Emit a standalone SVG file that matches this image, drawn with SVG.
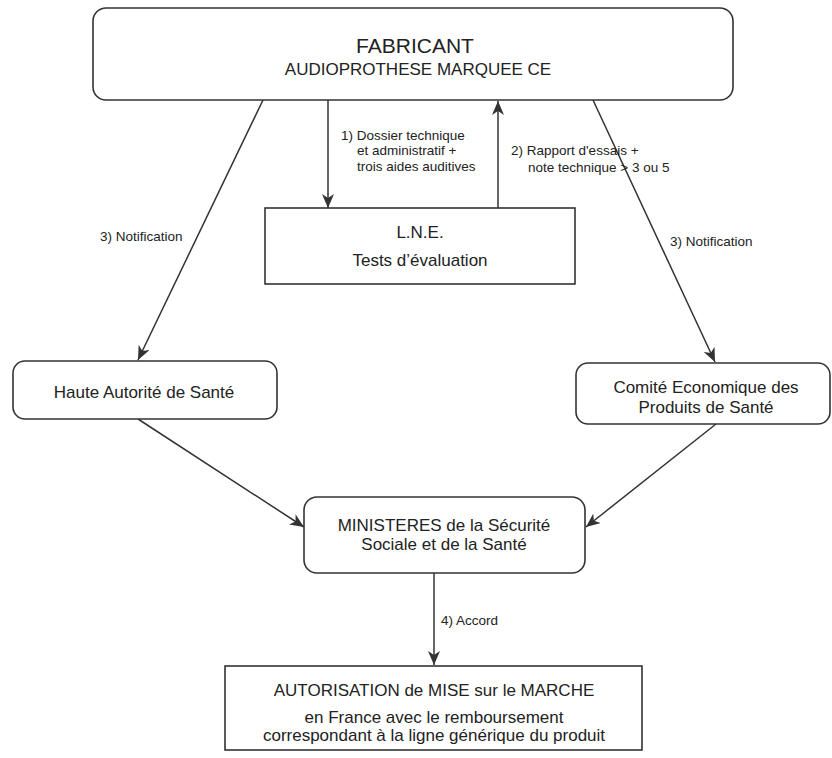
<svg xmlns="http://www.w3.org/2000/svg" width="832" height="758" viewBox="0 0 832 758">
  <style>
    .box { fill: #ffffff; stroke: #333333; stroke-width: 1.6; }
    .conn { fill: none; stroke: #333333; stroke-width: 1.5; }
    .t { font-family: "Liberation Sans", Arial, sans-serif; fill: #222222; }
    .node { font-size: 17px; text-anchor: middle; }
    .lbl { font-size: 13.5px; }
  </style>
  <defs>
    <marker id="ah" markerUnits="userSpaceOnUse" markerWidth="15" markerHeight="12" refX="14" refY="6" orient="auto">
      <path d="M0,0 L14,6 L0,12 L4,6 z" fill="#333333"/>
    </marker>
  </defs>
  <rect width="832" height="758" fill="#ffffff"/>

  <g id="connectors">
    <line class="conn" x1="328" y1="100" x2="328" y2="208" marker-end="url(#ah)"/>
    <line class="conn" x1="498" y1="208" x2="498" y2="101" marker-end="url(#ah)"/>
    <line class="conn" x1="263" y1="100" x2="138" y2="360" marker-end="url(#ah)"/>
    <line class="conn" x1="593" y1="100" x2="715" y2="362" marker-end="url(#ah)"/>
    <line class="conn" x1="138" y1="419" x2="304" y2="527" marker-end="url(#ah)"/>
    <line class="conn" x1="716" y1="424" x2="586" y2="527" marker-end="url(#ah)"/>
    <line class="conn" x1="434" y1="573" x2="434" y2="665" marker-end="url(#ah)"/>
    <g id="connector-labels" class="t lbl">
      <text x="341" y="140">1) Dossier technique</text>
      <text x="357" y="155">et administratif +</text>
      <text x="357" y="171">trois aides auditives</text>
      <text x="511" y="155">2) Rapport d'essais +</text>
      <text x="528" y="172">note technique &gt; 3 ou 5</text>
      <text x="100" y="241">3) Notification</text>
      <text x="670" y="246">3) Notification</text>
      <text x="441" y="625">4) Accord</text>
    </g>
  </g>

  <g id="fabricant">
    <rect class="box" x="93" y="8" width="640" height="92" rx="13" ry="13"/>
    <text class="t" x="415" y="53" font-size="21" text-anchor="middle">FABRICANT</text>
    <text class="t" x="418" y="75" font-size="17" text-anchor="middle">AUDIOPROTHESE MARQUEE CE</text>
  </g>

  <g id="lne">
    <rect class="box" x="265" y="208" width="310" height="76"/>
    <text class="t node" x="420" y="238">L.N.E.</text>
    <text class="t node" x="420" y="266">Tests d’évaluation</text>
  </g>

  <g id="has">
    <rect class="box" x="13" y="361" width="264" height="58" rx="12" ry="12"/>
    <text class="t node" x="144" y="398">Haute Autorité de Santé</text>
  </g>

  <g id="ceps">
    <rect class="box" x="576" y="363" width="254" height="61" rx="12" ry="12"/>
    <text class="t node" x="706" y="393">Comité Economique des</text>
    <text class="t node" x="706" y="413">Produits de Santé</text>
  </g>

  <g id="ministeres">
    <rect class="box" x="304" y="497" width="281" height="76" rx="13" ry="13"/>
    <text class="t node" x="444" y="531">MINISTERES de la Sécurité</text>
    <text class="t node" x="444" y="550">Sociale et de la Santé</text>
  </g>

  <g id="amm">
    <rect class="box" x="225" y="666" width="417" height="84"/>
    <text class="t node" x="434" y="696">AUTORISATION de MISE sur le MARCHE</text>
    <text class="t node" x="434" y="723">en France avec le remboursement</text>
    <text class="t node" x="434" y="741">correspondant à la ligne générique du produit</text>
  </g>
</svg>
